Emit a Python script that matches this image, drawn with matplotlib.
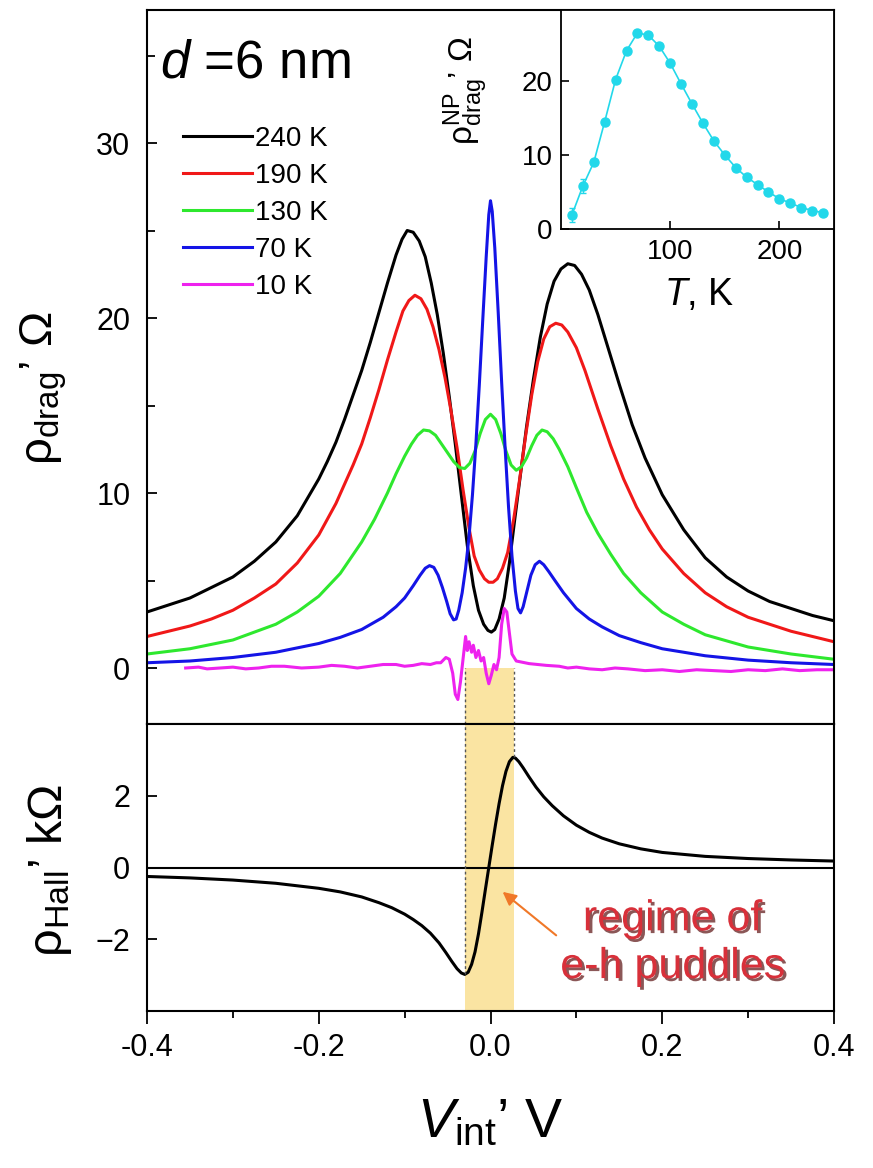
import matplotlib
matplotlib.use("Agg")
import matplotlib.pyplot as plt
from matplotlib import patheffects as pe
from matplotlib.ticker import MultipleLocator, FixedLocator, FormatStrFormatter

plt.rcParams['font.family'] = ['Liberation Sans', 'DejaVu Sans']
plt.rcParams['mathtext.fontset'] = 'custom'
plt.rcParams['mathtext.rm'] = 'Liberation Sans'
plt.rcParams['mathtext.it'] = 'Liberation Sans:italic'
plt.rcParams['mathtext.bf'] = 'Liberation Sans:bold'

# ---- drag resistivity vs interlayer voltage, several temperatures ----
temps = ["240 K", "190 K", "130 K", "70 K", "10 K"]
colors = ["#000000", "#f01818", "#2ee82e", "#1414e6", "#ee22ee"]

v_240 = [-0.4, -0.375, -0.35, -0.325, -0.3, -0.275, -0.25, -0.225, -0.2, -0.19, -0.18,
         -0.17, -0.16, -0.15, -0.14, -0.13, -0.12, -0.11, -0.103, -0.097, -0.09, -0.083,
         -0.076, -0.069, -0.062, -0.055, -0.048, -0.041, -0.034, -0.027, -0.02, -0.014,
         -0.008, -0.003, 0.001, 0.005, 0.01, 0.016, 0.022, 0.028, 0.035, 0.042, 0.05,
         0.058, 0.066, 0.074, 0.082, 0.09, 0.098, 0.106, 0.115, 0.125, 0.135, 0.15,
         0.165, 0.18, 0.2, 0.225, 0.25, 0.275, 0.3, 0.325, 0.35, 0.375, 0.4]
rho_240 = [3.2, 3.6, 4.0, 4.6, 5.2, 6.1, 7.2, 8.7, 10.8, 11.8, 12.9,
           14.2, 15.6, 17.0, 18.6, 20.3, 22.0, 23.6, 24.5, 25.0, 24.9, 24.4,
           23.5, 22.0, 20.2, 18.0, 15.5, 12.8, 9.9, 7.0, 4.7, 3.3,
           2.5, 2.15, 2.05, 2.2, 2.8, 4.0, 6.0, 8.4, 11.1, 13.8, 16.5,
           18.9, 20.8, 22.1, 22.8, 23.1, 23.0, 22.5, 21.6, 20.2, 18.6, 16.2,
           13.9, 12.0, 9.9, 7.9, 6.3, 5.2, 4.4, 3.8, 3.4, 3.0, 2.7]

v_190 = [-0.4, -0.375, -0.35, -0.325, -0.3, -0.275, -0.25, -0.225, -0.2, -0.19, -0.18,
         -0.17, -0.16, -0.15, -0.14, -0.13, -0.12, -0.11, -0.102, -0.095, -0.088, -0.081,
         -0.074, -0.067, -0.06, -0.053, -0.046, -0.039, -0.032, -0.025, -0.019, -0.013,
         -0.007, -0.002, 0.003, 0.008, 0.014, 0.02, 0.027, 0.034, 0.041, 0.048, 0.055,
         0.062, 0.069, 0.076, 0.083, 0.09, 0.1, 0.11, 0.125, 0.14, 0.155, 0.17, 0.185,
         0.2, 0.225, 0.25, 0.275, 0.3, 0.325, 0.35, 0.375, 0.4]
rho_190 = [1.8, 2.1, 2.4, 2.8, 3.3, 4.0, 4.8, 6.0, 7.6, 8.5, 9.4,
           10.5, 11.6, 12.8, 14.3, 15.9, 17.6, 19.2, 20.4, 21.0, 21.3, 21.1,
           20.5, 19.5, 18.2, 16.6, 14.7, 12.6, 10.2, 8.0, 6.4, 5.6,
           5.1, 4.9, 4.9, 5.1, 5.7, 6.6, 8.5, 10.8, 13.3, 15.6, 17.5,
           18.8, 19.5, 19.7, 19.6, 19.2, 18.3, 17.0, 14.8, 12.7, 10.8, 9.2, 7.9,
           6.8, 5.4, 4.3, 3.5, 2.9, 2.5, 2.1, 1.8, 1.5]

v_130 = [-0.4, -0.35, -0.3, -0.25, -0.225, -0.2, -0.175, -0.15, -0.135, -0.12, -0.11,
         -0.1, -0.092, -0.085, -0.078, -0.071, -0.064, -0.057, -0.05, -0.043, -0.036,
         -0.03, -0.024, -0.018, -0.012, -0.006, 0.0, 0.006, 0.012, 0.018, 0.024, 0.03,
         0.036, 0.042, 0.048, 0.054, 0.06, 0.066, 0.073, 0.08, 0.09, 0.1, 0.112, 0.125,
         0.14, 0.155, 0.175, 0.2, 0.225, 0.25, 0.3, 0.35, 0.4]
rho_130 = [0.8, 1.1, 1.6, 2.5, 3.2, 4.1, 5.4, 7.2, 8.5, 10.0, 11.1,
           12.1, 12.8, 13.3, 13.6, 13.55, 13.3, 12.8, 12.3, 11.8, 11.45,
           11.4, 11.7, 12.4, 13.4, 14.2, 14.5, 14.2, 13.4, 12.4, 11.6, 11.3,
           11.5, 12.0, 12.7, 13.3, 13.6, 13.5, 13.1, 12.5, 11.5, 10.3, 8.9, 7.7,
           6.5, 5.4, 4.3, 3.2, 2.5, 1.9, 1.2, 0.8, 0.5]

v_70 = [-0.4, -0.35, -0.3, -0.25, -0.2, -0.175, -0.15, -0.125, -0.11, -0.1, -0.09,
        -0.082, -0.076, -0.071, -0.066, -0.061, -0.056, -0.051, -0.047, -0.043, -0.04,
        -0.037, -0.033, -0.029, -0.025, -0.021, -0.017, -0.013, -0.009, -0.005, -0.002,
        0.0, 0.002, 0.005, 0.009, 0.013, 0.017, 0.021, 0.025, 0.029, 0.032, 0.035, 0.038,
        0.042, 0.047, 0.052, 0.057, 0.062, 0.068, 0.075, 0.085, 0.1, 0.115, 0.13, 0.15,
        0.175, 0.2, 0.25, 0.3, 0.35, 0.4]
rho_70 = [0.3, 0.4, 0.6, 0.9, 1.4, 1.75, 2.2, 2.9, 3.5, 4.0, 4.7,
          5.3, 5.7, 5.85, 5.75, 5.3, 4.6, 3.8, 3.1, 2.75, 2.8,
          3.3, 4.3, 5.7, 7.5, 9.9, 12.8, 16.2, 19.9, 23.5, 25.9,
          26.7, 26.1, 24.0, 20.3, 16.3, 12.6, 9.2, 6.4, 4.4, 3.4, 3.15, 3.5,
          4.3, 5.3, 5.9, 6.1, 5.9, 5.5, 5.0, 4.3, 3.4, 2.8, 2.35, 1.85,
          1.45, 1.1, 0.7, 0.45, 0.3, 0.2]

v_10 = [-0.355, -0.34, -0.33, -0.315, -0.3, -0.285, -0.27, -0.255, -0.24, -0.22, -0.2,
        -0.185, -0.17, -0.155, -0.14, -0.125, -0.11, -0.1, -0.09, -0.08, -0.07, -0.063,
        -0.058, -0.052, -0.048, -0.044, -0.041, -0.038, -0.035, -0.032, -0.029, -0.027,
        -0.025, -0.022, -0.02, -0.017, -0.014, -0.011, -0.008, -0.005, -0.002, 0.001,
        0.004, 0.007, 0.01, 0.013, 0.016, 0.019, 0.022, 0.025, 0.03, 0.035, 0.045, 0.055,
        0.065, 0.08, 0.09, 0.1, 0.115, 0.13, 0.145, 0.16, 0.18, 0.2, 0.22, 0.24, 0.26,
        0.28, 0.3, 0.32, 0.34, 0.36, 0.38, 0.4]
rho_10 = [0.0, 0.05, -0.05, 0.0, 0.05, -0.05, 0.0, 0.1, 0.1, 0.0, 0.05,
          0.15, 0.1, 0.0, 0.1, 0.2, 0.2, 0.1, 0.15, 0.25, 0.2, 0.3,
          0.3, 0.6, 0.5, -0.3, -1.5, -1.8, -0.8, 0.5, 1.8, 1.0,
          1.5, 0.9, 1.3, 0.6, 1.0, 0.4, 0.6, -0.3, -0.9, -0.4,
          0.2, -0.1, 0.6, 2.5, 3.4, 3.2, 2.0, 0.8, 0.4, 0.35, 0.25, 0.2,
          0.15, 0.1, 0.0, 0.05, -0.05, -0.1, 0.0, -0.05, -0.15, -0.1, -0.2, -0.1, -0.15,
          -0.2, -0.1, -0.15, -0.05, -0.15, -0.1, -0.1]

# ---- Hall resistivity (kOhm) ----
v_hall = [-0.4, -0.35, -0.3, -0.25, -0.2, -0.175, -0.15, -0.13, -0.115, -0.1, -0.09,
          -0.08, -0.07, -0.06, -0.052, -0.045, -0.039, -0.034, -0.03, -0.026, -0.022,
          -0.018, -0.014, -0.01, -0.006, -0.002, 0.002, 0.006, 0.01, 0.014, 0.018, 0.022,
          0.026, 0.029, 0.033, 0.038, 0.045, 0.053, 0.062, 0.072, 0.085, 0.1, 0.115, 0.13,
          0.15, 0.175, 0.2, 0.25, 0.3, 0.35, 0.4]
rho_hall = [-0.25, -0.29, -0.35, -0.44, -0.58, -0.68, -0.82, -0.98, -1.12, -1.3, -1.45,
            -1.62, -1.83, -2.1, -2.37, -2.62, -2.82, -2.94, -2.98, -2.92, -2.7,
            -2.35, -1.85, -1.25, -0.62, 0.0, 0.62, 1.22, 1.78, 2.28, 2.68, 2.95,
            3.07, 3.05, 2.95, 2.78, 2.52, 2.24, 1.97, 1.72, 1.44, 1.18, 0.98, 0.82,
            0.66, 0.52, 0.42, 0.31, 0.25, 0.21, 0.18]

# electron-hole puddle window
puddle_lo, puddle_hi = -0.030, 0.027

# ---- inset: drag peak value at the neutrality point vs temperature ----
t_np = [10, 20, 30, 40, 50, 60, 70, 80, 90, 100, 110, 120, 130, 140, 150, 160,
        170, 180, 190, 200, 210, 220, 230, 240]
rho_np = [1.9, 5.8, 9.0, 14.5, 20.2, 24.1, 26.5, 26.2, 24.7, 22.4, 19.6, 16.9,
          14.3, 11.9, 10.0, 8.3, 7.0, 6.0, 5.0, 4.1, 3.5, 2.9, 2.5, 2.2]
rho_np_err = [0.9, 0.9] + [0.0] * 22

W, H = 873, 1168
fig = plt.figure(figsize=(W / 100, H / 100), dpi=100)
x0, x1 = 147, 834
ax = fig.add_axes([x0 / W, 1 - 724 / H, (x1 - x0) / W, (724 - 10) / H])
axh = fig.add_axes([x0 / W, 1 - 1011 / H, (x1 - x0) / W, (1011 - 724) / H])

band_color = "#fae4a2"
dash_color = "#555555"
curves = [(v_240, rho_240), (v_190, rho_190), (v_130, rho_130), (v_70, rho_70), (v_10, rho_10)]
for (v, r), c, lab in zip(curves, colors, temps):
    ax.plot(v, r, color=c, lw=2.2, label=lab, solid_joinstyle="round")

ylo_top = -3.2
ax.fill_between([puddle_lo, puddle_hi], ylo_top, 0, color=band_color, lw=0, zorder=0)
ax.vlines([puddle_lo, puddle_hi], ylo_top, 0, colors=dash_color, linestyles=(0, (2, 2)), lw=1)
ax.set_xlim(-0.4, 0.4)
ax.set_ylim(ylo_top, 37.6)
ax.yaxis.set_major_locator(FixedLocator([0, 10, 20, 30]))
ax.yaxis.set_minor_locator(FixedLocator([5, 15, 25, 35]))
ax.tick_params(axis="y", which="both", direction="in", labelsize=22, pad=12, width=1.3)
ax.tick_params(axis="y", which="major", length=7)
ax.tick_params(axis="y", which="minor", length=6)
ax.tick_params(axis="x", which="both", bottom=False, labelbottom=False)
ax.set_ylabel(r"ρ$_{\mathregular{drag}}$’ Ω", fontsize=34)
ax.yaxis.set_label_coords(-0.113, 0.47)
ax.text(0.019, 0.905, r"$d$ =6 nm", transform=ax.transAxes, fontsize=38, va="baseline")
ax.legend(loc="upper left", bbox_to_anchor=(0.052, 0.838), frameon=False, fontsize=20,
          handlelength=2.5, handletextpad=0.1, labelspacing=0.4, borderaxespad=0, borderpad=0)

axh.axvspan(puddle_lo, puddle_hi, color=band_color, lw=0, zorder=0)
axh.plot(v_hall, rho_hall, color="black", lw=2.2)
axh.axhline(0, color="black", lw=1.5)
axh.vlines([puddle_lo], min(rho_hall), 4.0, colors=dash_color, linestyles=(0, (2, 2)), lw=1)
axh.vlines([puddle_hi], max(rho_hall), 4.0, colors=dash_color, linestyles=(0, (2, 2)), lw=1)
axh.set_xlim(-0.4, 0.4)
axh.set_ylim(-4.0, 4.0)
axh.yaxis.set_major_locator(FixedLocator([-2, 0, 2]))
axh.tick_params(axis="y", direction="in", length=7, labelsize=22, pad=12, width=1.3)
axh.xaxis.set_major_locator(MultipleLocator(0.2))
axh.xaxis.set_minor_locator(MultipleLocator(0.1))
axh.xaxis.set_major_formatter(FormatStrFormatter("%.1f"))
axh.tick_params(axis="x", which="both", direction="out", labelsize=22, pad=7, width=1.3)
axh.tick_params(axis="x", which="major", length=9)
axh.tick_params(axis="x", which="minor", length=5)
axh.set_ylabel(r"ρ$_{\mathregular{Hall}}$’ kΩ", fontsize=35)
axh.yaxis.set_label_coords(-0.106, 0.49)
axh.set_xlabel(r"$V_{\mathregular{int}}$’ V", fontsize=40)
axh.xaxis.set_label_coords(0.5, -0.30)

axh.annotate("", xy=(0.0116, -0.63), xytext=(0.079, -1.94),
             arrowprops=dict(arrowstyle="-|>", color="#f07828", lw=1.5, mutation_scale=20))
axh.text(0.212, -2.11, "regime of\ne-h puddles", ha="center", va="center", fontsize=31,
         color="#d8303a", linespacing=1.25,
         path_effects=[pe.SimplePatchShadow(offset=(2, -2), shadow_rgbFace="#5a1010", alpha=0.7),
                       pe.Normal()])

for a in (ax, axh):
    for s in a.spines.values():
        s.set_linewidth(1.5)

# inset
ix0, iy0, ix1, iy1 = 561, 10, 834, 229
axi = fig.add_axes([ix0 / W, 1 - iy1 / H, (ix1 - ix0) / W, (iy1 - iy0) / H])
axi.errorbar(t_np, rho_np, yerr=rho_np_err, color="#22d8ea", lw=1.2, marker="o", ms=6.5,
             mec="#22d8ea", mfc="#22d8ea", capsize=2, elinewidth=1)
axi.set_xlim(0, 250)
axi.set_ylim(0, 29.6)
axi.xaxis.set_major_locator(FixedLocator([100, 200]))
axi.yaxis.set_major_locator(FixedLocator([0, 10, 20]))
axi.tick_params(direction="in", length=6, labelsize=20, width=1.2)
axi.tick_params(axis="x", pad=7)
axi.tick_params(axis="y", pad=6)
for s in axi.spines.values():
    s.set_linewidth(1.3)
axi.set_ylabel(r"ρ$^{\mathregular{NP}}_{\mathregular{drag}}$’ Ω", fontsize=24)
axi.yaxis.set_label_coords(-0.26, 0.635)
axi.set_xlabel(r"$T$, K", fontsize=27)
axi.xaxis.set_label_coords(0.505, -0.22)

fig.savefig("out.png", dpi=100)
